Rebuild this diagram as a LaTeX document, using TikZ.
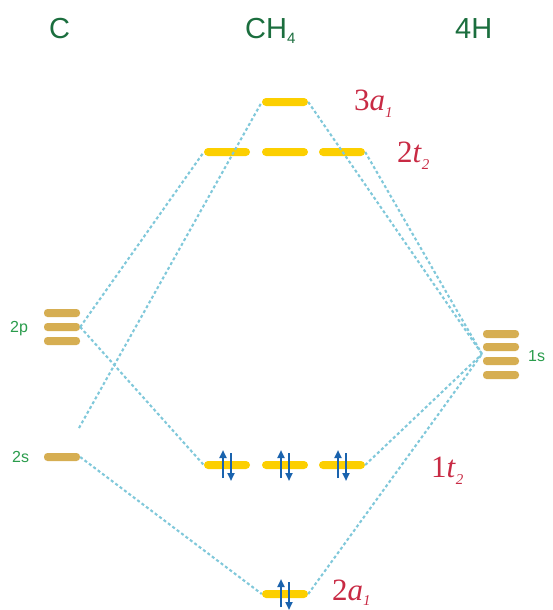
\documentclass[tikz,border=0pt]{standalone}
\usepackage{fontspec}
\setmainfont{Liberation Serif}
\setsansfont{Liberation Sans}
\usetikzlibrary{arrows.meta}
\definecolor{molbar}{HTML}{FCCF00}
\definecolor{atombar}{HTML}{D6AE52}
\definecolor{conn}{HTML}{80C8DA}
\definecolor{spinblue}{HTML}{1A63AE}
\definecolor{headgreen}{HTML}{1B6E3E}
\definecolor{lvlgreen}{HTML}{2A9C4C}
\definecolor{symred}{HTML}{C82A44}
\tikzset{
  molbox/.style={fill=molbar, draw=none, rounded corners=4pt, minimum width=46pt, minimum height=8pt, inner sep=0pt},
  atombox/.style={fill=atombar, draw=none, rounded corners=3.5pt, minimum width=36pt, minimum height=8pt, inner sep=0pt},
  corr/.style={draw=conn, line width=2.1pt, dash pattern=on 3pt off 2.5pt},
  spin/.style={draw=spinblue, line width=2pt, -{Triangle[length=8pt,width=7pt]}},
  head/.style={font=\sffamily\fontsize{29}{29}\selectfont, text=headgreen, inner sep=0pt, anchor=base west},
  lvl/.style={font=\sffamily\fontsize{16}{16}\selectfont, text=lvlgreen, inner sep=0pt, anchor=base west},
  sym/.style={font=\rmfamily\fontsize{31}{31}\selectfont, text=symred, inner sep=0pt, anchor=base west}
}
\newcommand{\symsub}[1]{\raisebox{-7pt}{\fontsize{15}{15}\selectfont\textit{#1}}}
\begin{document}
\begin{tikzpicture}[x=1pt,y=-1pt]
\useasboundingbox (0,0) rectangle (553,610);
% headings
\node[head] (hC) at (49,39) {C};
\node[head] (hCH) at (245,39) {CH\raisebox{-5pt}{\fontsize{15}{15}\selectfont 4}};
\node[head] (hH) at (455,39) {4H};
% C levels
\node[atombox] (p1) at (62,313) {};
\node[atombox] (p2) at (62,327) {};
\node[atombox] (p3) at (62,341) {};
\node[atombox] (s2) at (62,457) {};
\node[lvl] (l2p) at (10,332) {2p};
\node[lvl] (l2s) at (12,462) {2s};
% H levels
\node[atombox] (h1) at (501,334) {};
\node[atombox] (h2) at (501,347) {};
\node[atombox] (h3) at (501,361) {};
\node[atombox] (h4) at (501,375) {};
\node[lvl] (l1s) at (528,361) {1s};
\coordinate (hconv) at (482,354);
% CH4 levels
\node[molbox] (a3) at (285,102) {};
\node[molbox] (t2a) at (227,152) {};
\node[molbox] (t2b) at (285,152) {};
\node[molbox] (t2c) at (342,152) {};
\node[molbox] (t1a) at (227,465) {};
\node[molbox] (t1b) at (285,465) {};
\node[molbox] (t1c) at (342,465) {};
\node[molbox] (a2) at (285,594) {};
% symmetry labels
\node[sym] (la3) at (354,110) {3\textit{a}\symsub{1}};
\node[sym] (lt2) at (397,162) {2\textit{t}\symsub{2}};
\node[sym] (lt1) at (431,477) {1\textit{t}\symsub{2}};
\node[sym] (la2) at (332,600) {2\textit{a}\raisebox{-5pt}{\fontsize{15}{15}\selectfont\textit{1}}};
% correlation lines
\coordinate (cfree) at (79,428);
\draw[corr] (p2.east) -- (t2a.west);
\draw[corr] (p2.east) -- (t1a.west);
\draw[corr] (cfree) -- (a3.west);
\draw[corr] (s2.east) -- (a2.west);
\draw[corr] (a3.east) -- (hconv);
\draw[corr] (t2c.east) -- (hconv);
\draw[corr] (t1c.east) -- (hconv);
\draw[corr] (a2.east) -- (hconv);
% electrons
\foreach \n in {t1a,t1b,t1c,a2}{
  \draw[spin] ([xshift=-4pt,yshift=-13pt]\n.center) -- ([xshift=-4pt,yshift=15pt]\n.center);
  \draw[spin] ([xshift=4pt,yshift=12pt]\n.center) -- ([xshift=4pt,yshift=-16pt]\n.center);
}
\end{tikzpicture}
\end{document}
